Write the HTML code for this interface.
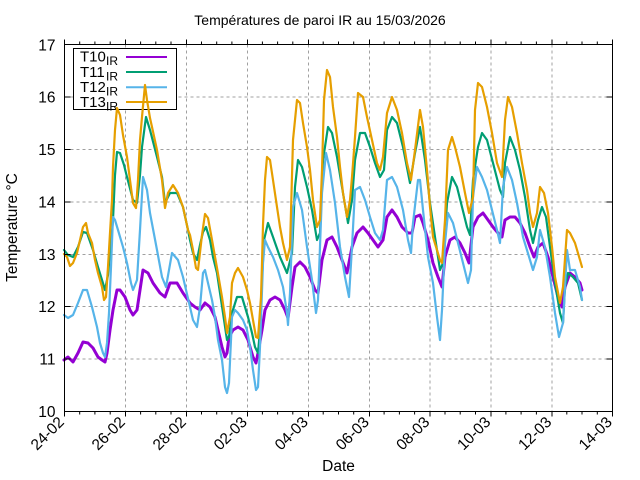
<!DOCTYPE html>
<html>
<head>
<meta charset="utf-8">
<style>
html,body{margin:0;padding:0;background:#fff;}
svg{display:block;}
text{font-family:"Liberation Sans",Arial,sans-serif;fill:#000;}
</style>
</head>
<body>
<svg width="640" height="480" viewBox="0 0 640 480" xmlns="http://www.w3.org/2000/svg">
<rect x="0" y="0" width="640" height="480" fill="#fff"/>
<!-- title -->
<text x="320" y="25" font-size="14" text-anchor="middle">Températures de paroi IR au 15/03/2026</text>

<!-- grid -->
<g stroke="#a0a0a0" stroke-width="1" stroke-dasharray="3,3" fill="none">
<line x1="64.5" y1="97" x2="612.5" y2="97"/>
<line x1="64.5" y1="149.5" x2="612.5" y2="149.5"/>
<line x1="64.5" y1="202" x2="612.5" y2="202"/>
<line x1="64.5" y1="254.5" x2="612.5" y2="254.5"/>
<line x1="64.5" y1="306.5" x2="612.5" y2="306.5"/>
<line x1="64.5" y1="359" x2="612.5" y2="359"/>
<line x1="125.5" y1="44.5" x2="125.5" y2="411.5"/>
<line x1="186.5" y1="44.5" x2="186.5" y2="411.5"/>
<line x1="247.5" y1="44.5" x2="247.5" y2="411.5"/>
<line x1="308.5" y1="44.5" x2="308.5" y2="411.5"/>
<line x1="369.5" y1="44.5" x2="369.5" y2="411.5"/>
<line x1="430" y1="44.5" x2="430" y2="411.5"/>
<line x1="491" y1="44.5" x2="491" y2="411.5"/>
<line x1="552" y1="44.5" x2="552" y2="411.5"/>
</g>

<!-- legend box -->
<rect x="73.5" y="48.5" width="103" height="61" fill="#fff" stroke="#000" stroke-width="1"/>
<text x="80" y="61.5" font-size="15">T10</text><text x="106" y="65" font-size="12">IR</text>
<text x="80" y="76.8" font-size="15">T11</text><text x="106" y="80.3" font-size="12">IR</text>
<text x="80" y="92" font-size="15">T12</text><text x="106" y="95.5" font-size="12">IR</text>
<text x="80" y="107" font-size="15">T13</text><text x="106" y="110.5" font-size="12">IR</text>
<line x1="126" y1="57" x2="167" y2="57" stroke="#9400d3" stroke-width="2"/>
<line x1="126" y1="72" x2="167" y2="72" stroke="#009e73" stroke-width="2"/>
<line x1="126" y1="87.3" x2="167" y2="87.3" stroke="#56b4e9" stroke-width="2"/>
<line x1="126" y1="102" x2="167" y2="102" stroke="#e69f00" stroke-width="2"/>

<!-- series -->
<g fill="none" stroke-linejoin="round" stroke-linecap="round">
<polyline stroke="#9400d3" stroke-width="3" points="64,360 68,357 73,362 78,353 83,342 88,343 93,348 98,357 102,360 105,362 107,353 110,330 113,310 117,290 120,290 125,297 130,310 133,315 137,310 140,290 143,270 148,273 153,283 160,293 165,297 170,283 177,283 183,293 190,303 195,307 200,310 205,303 210,307 215,317 218,330 222,347 225,357 227,353 229,337 233,330 238,327 243,330 248,340 253,357 256,363 258,353 262,330 265,310 270,300 275,297 280,300 285,310 288,318 292,287 295,267 300,262 305,267 310,277 315,290 318,293 322,260 327,240 332,237 337,247 342,260 347,273 352,247 357,233 363,227 368,233 373,240 378,247 383,240 387,217 392,210 397,217 402,227 408,233 412,233 415,217 420,215 423,223 428,240 433,263 438,277 442,287 445,257 450,240 455,237 460,243 465,253 469,263 473,227 478,217 483,213 488,220 493,227 498,233 502,237 505,220 510,217 515,217 520,223 525,233 530,247 534,257 538,247 543,243 548,257 553,277 558,297 562,307 565,287 570,273 575,277 580,283 582,290"/>
<polyline stroke="#009e73" stroke-width="2.2" points="64,250 68,255 73,257 78,247 83,232 87,233 93,250 98,267 102,280 105,290 108,275 110,253 113,220 115,175 117,152 120,153 124,165 127,177 133,200 137,203 140,175 142,147 146,117 150,130 157,157 162,177 165,203 170,193 177,193 183,207 188,230 190,240 193,253 197,260 200,245 203,232 206,227 210,240 213,257 217,273 220,293 223,313 227,340 229,337 232,313 237,297 242,297 245,307 248,317 252,333 255,347 258,353 260,330 262,280 264,240 268,223 273,237 280,257 287,273 292,253 295,187 298,160 302,167 307,187 312,210 317,240 320,233 323,160 328,127 332,133 337,157 343,193 348,223 352,200 355,160 360,133 365,133 370,147 375,163 380,177 384,170 387,130 392,117 397,123 403,147 410,183 415,153 420,127 425,160 430,203 435,237 440,270 443,263 447,203 452,177 457,187 462,207 467,227 470,235 473,180 478,147 482,133 487,140 493,163 500,190 503,197 505,163 510,137 515,150 520,170 525,197 530,230 533,243 538,220 542,207 546,217 550,247 555,283 560,313 563,323 565,287 568,273 573,277 578,283 582,300"/>
<polyline stroke="#56b4e9" stroke-width="2.2" points="64,315 68,318 73,315 78,303 83,290 87,290 92,307 97,327 100,343 103,353 105,357 107,343 109,313 111,267 113,217 115,220 118,230 123,247 127,263 131,283 133,290 137,280 140,230 143,177 147,190 150,213 157,250 162,277 166,287 172,253 178,260 183,277 190,307 193,320 197,327 200,307 203,273 205,270 208,283 212,300 215,317 218,340 222,360 225,387 227,393 229,383 231,340 232,317 235,310 238,313 243,320 247,330 250,347 253,370 256,390 258,387 260,347 263,263 265,240 268,247 273,257 278,270 283,287 287,313 288,325 290,293 293,207 297,193 302,210 307,247 312,280 316,313 318,300 322,193 326,153 330,170 335,203 340,247 345,277 349,297 352,247 355,190 360,187 365,200 370,217 375,233 380,240 383,230 387,180 392,177 397,187 403,210 408,240 411,253 413,223 418,180 420,180 423,210 428,257 433,283 437,317 440,340 442,310 445,243 448,213 453,223 458,243 463,263 468,283 471,270 473,197 477,167 482,177 487,190 492,210 497,230 500,243 503,187 507,167 512,180 517,203 523,237 530,260 533,270 537,257 540,230 545,247 550,277 555,313 559,337 563,323 567,250 570,270 575,270 580,287 582,300"/>
<polyline stroke="#e69f00" stroke-width="2.2" points="64,254 67,257 70,266 73,263 77,253 80,240 83,227 86,223 88,233 92,243 95,260 98,273 102,287 104,300 106,297 108,267 110,233 112,200 113,167 115,130 117,108 120,115 123,135 127,157 130,180 133,203 136,208 138,180 140,140 142,117 145,85 147,100 150,118 152,127 157,150 162,180 165,208 168,193 173,185 178,193 183,207 188,230 190,235 193,250 196,268 198,270 202,235 205,214 208,218 212,240 217,268 222,297 225,317 227,333 230,317 232,283 235,273 238,268 243,277 247,290 250,303 253,320 256,337 258,338 261,297 262,263 263,225 265,180 267,157 270,160 273,180 277,207 280,227 283,243 287,260 290,247 293,140 297,100 300,103 303,123 307,147 310,170 313,200 317,227 320,220 322,170 324,100 327,70 330,77 333,107 337,137 340,167 343,193 347,217 350,200 352,177 355,137 358,93 363,97 367,117 372,140 377,163 380,170 383,157 387,113 392,97 397,110 402,133 407,163 411,180 415,150 420,110 423,127 427,170 430,207 433,237 437,250 440,260 442,263 445,220 448,150 452,137 455,147 460,167 465,193 469,213 473,197 475,110 478,83 482,87 487,107 492,133 497,163 502,177 505,120 508,97 512,107 517,133 522,163 527,190 530,213 533,227 537,213 540,187 544,193 548,213 552,247 555,277 560,303 563,287 567,230 570,233 575,243 580,260 582,267"/>
</g>

<!-- border -->
<rect x="64.5" y="44.5" width="548" height="367" fill="none" stroke="#000" stroke-width="1"/>

<!-- y ticks -->
<g stroke="#000" stroke-width="1">
<line x1="64.5" y1="97" x2="70.5" y2="97"/><line x1="606.5" y1="97" x2="612.5" y2="97"/>
<line x1="64.5" y1="149.5" x2="70.5" y2="149.5"/><line x1="606.5" y1="149.5" x2="612.5" y2="149.5"/>
<line x1="64.5" y1="202" x2="70.5" y2="202"/><line x1="606.5" y1="202" x2="612.5" y2="202"/>
<line x1="64.5" y1="254.5" x2="70.5" y2="254.5"/><line x1="606.5" y1="254.5" x2="612.5" y2="254.5"/>
<line x1="64.5" y1="306.5" x2="70.5" y2="306.5"/><line x1="606.5" y1="306.5" x2="612.5" y2="306.5"/>
<line x1="64.5" y1="359" x2="70.5" y2="359"/><line x1="606.5" y1="359" x2="612.5" y2="359"/>
</g>

<!-- x ticks -->
<g stroke="#000" stroke-width="1">
<path d="M64.5 411.5v5M125.5 411.5v5M186.5 411.5v5M247.5 411.5v5M308.5 411.5v5M369.5 411.5v5M430 411.5v5M491 411.5v5M552 411.5v5M612.5 411.5v5
M64.5 44.5v-5M125.5 44.5v-5M186.5 44.5v-5M247.5 44.5v-5M308.5 44.5v-5M369.5 44.5v-5M430 44.5v-5M491 44.5v-5M552 44.5v-5M612.5 44.5v-5"/>
<path d="M79.7 411.5v3M94.9 411.5v3M110.2 411.5v3M140.6 411.5v3M155.8 411.5v3M171 411.5v3M201.5 411.5v3M216.7 411.5v3M231.9 411.5v3M262.4 411.5v3M277.6 411.5v3M292.8 411.5v3M323.2 411.5v3M338.5 411.5v3M353.7 411.5v3M384.1 411.5v3M399.4 411.5v3M414.6 411.5v3M445 411.5v3M460.2 411.5v3M475.5 411.5v3M505.9 411.5v3M521.1 411.5v3M536.4 411.5v3M566.8 411.5v3M582 411.5v3M597.3 411.5v3
M79.7 44.5v-3M94.9 44.5v-3M110.2 44.5v-3M140.6 44.5v-3M155.8 44.5v-3M171 44.5v-3M201.5 44.5v-3M216.7 44.5v-3M231.9 44.5v-3M262.4 44.5v-3M277.6 44.5v-3M292.8 44.5v-3M323.2 44.5v-3M338.5 44.5v-3M353.7 44.5v-3M384.1 44.5v-3M399.4 44.5v-3M414.6 44.5v-3M445 44.5v-3M460.2 44.5v-3M475.5 44.5v-3M505.9 44.5v-3M521.1 44.5v-3M536.4 44.5v-3M566.8 44.5v-3M582 44.5v-3M597.3 44.5v-3"/>
</g>

<!-- y tick labels -->
<g font-size="15.5" text-anchor="end">
<text x="55.5" y="50.5">17</text>
<text x="55.5" y="102.5">16</text>
<text x="55.5" y="155">15</text>
<text x="55.5" y="207.5">14</text>
<text x="55.5" y="260">13</text>
<text x="55.5" y="312">12</text>
<text x="55.5" y="364.5">11</text>
<text x="55.5" y="417">10</text>
</g>

<!-- x tick labels -->
<g font-size="15.5" text-anchor="end">
<text transform="translate(65,423) rotate(-45)">24-02</text>
<text transform="translate(126,423) rotate(-45)">26-02</text>
<text transform="translate(187,423) rotate(-45)">28-02</text>
<text transform="translate(248,423) rotate(-45)">02-03</text>
<text transform="translate(309,423) rotate(-45)">04-03</text>
<text transform="translate(370,423) rotate(-45)">06-03</text>
<text transform="translate(430.5,423) rotate(-45)">08-03</text>
<text transform="translate(491.5,423) rotate(-45)">10-03</text>
<text transform="translate(552.5,423) rotate(-45)">12-03</text>
<text transform="translate(613,423) rotate(-45)">14-03</text>
</g>

<!-- axis labels -->
<text x="338.5" y="471" font-size="15.5" text-anchor="middle">Date</text>
<text transform="translate(17,227.5) rotate(-90)" font-size="15.5" text-anchor="middle">Temperature °C</text>
</svg>
</body>
</html>
